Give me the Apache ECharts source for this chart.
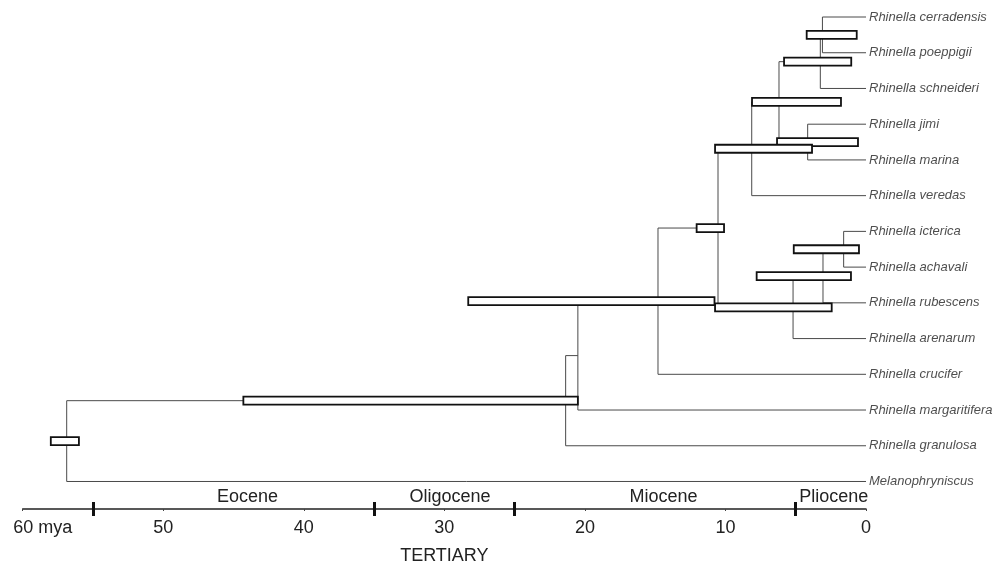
<!DOCTYPE html>
<html>
<head>
<meta charset="utf-8">
<script src="https://cdn.jsdelivr.net/npm/echarts@6/dist/echarts.min.js"></script>
<style>
html,body{margin:0;padding:0;background:#fff;}
#chart{width:998px;height:564px;}
</style>
</head>
<body>
<div id="chart"></div>
<script>
// ---- data ----
const taxa = ['Rhinella cerradensis','Rhinella poeppigii','Rhinella schneideri','Rhinella jimi','Rhinella marina','Rhinella veredas','Rhinella icterica','Rhinella achavali','Rhinella rubescens','Rhinella arenarum','Rhinella crucifer','Rhinella margaritifera','Rhinella granulosa','Melanophryniscus'];
// internal nodes (children listed before parents); numbers = taxa index, strings = node name
const nodeNames    = ['A','B','D','C','E','I','J','K','F','H','L','M','R'];
const nodeChildren = [[0,1],['A',2],[3,4],['B','D'],['C',5],[6,7],['I',8],['J',9],['E','K'],['F',10],['H',11],['L',12],['M',13]];
const nodeAges     = [3.1, 3.25, 4.15, 6.19, 8.13, 1.59, 3.06, 5.19, 10.53, 14.8, 20.5, 21.37, 56.87];
const barOlder     = [4.22, 5.83, 6.33, 8.11, 10.74, 5.14, 7.78, 10.74, 12.05, 28.3, null, 44.3, 58.0];
const barYounger   = [0.66, 1.05, 0.57, 1.78, 3.84, 0.5, 1.07, 2.44, 10.1, 10.78, null, 20.5, 56.0];
const axisTicks    = [60, 50, 40, 30, 20, 10, 0];
const epochBoundaries = [55, 35, 25, 5];
const epochNames      = ['Eocene','Oligocene','Miocene','Pliocene'];
const epochLabelAges  = [44, 29.6, 14.4, 2.3];
const eraName = 'TERTIARY';

// ---- build tree geometry (in data units) ----
const pos = {}; // key -> {age, y}
taxa.forEach((t, i) => { pos[i] = {age: 0, y: i}; });
const nodeData = [];
nodeNames.forEach((n, k) => {
  const ch = nodeChildren[k].map(c => pos[c]);
  const y = ch.reduce((s, c) => s + c.y, 0) / ch.length;
  pos[n] = {age: nodeAges[k], y: y};
  nodeData.push({ value: [nodeAges[k], y], children: ch });
});
const barData = [];
nodeNames.forEach((n, k) => {
  if (barOlder[k] != null) barData.push([barOlder[k], barYounger[k], pos[n].y]);
});

const LINE = '#4a4a4a';
const FONT = 'Liberation Sans, Arial, sans-serif';

const chart = echarts.init(document.getElementById('chart'), null, {renderer: 'canvas'});
chart.setOption({
  animation: false,
  backgroundColor: '#fff',
  grid: { left: 22.7, right: 132, top: 0, bottom: 55, containLabel: false, outerBoundsMode: 'none' },
  xAxis: [
    {
      type: 'value', min: 0, max: 60, interval: 10, inverse: true, position: 'bottom',
      axisLine: { show: true, onZero: false, lineStyle: { color: '#222', width: 1.5 } },
      axisTick: { show: true, length: 2, lineStyle: { color: '#444', width: 1 } },
      splitLine: { show: false },
      axisLabel: {
        show: true, color: '#222', fontSize: 18, fontFamily: FONT, margin: 10,
        customValues: axisTicks,
        formatter: v => v === 60 ? '{p|60 mya}' : String(v),
        rich: { p: { fontSize: 18, fontFamily: FONT, color: '#222', padding: [0, 0, 0, 40] } }
      },
      name: eraName, nameLocation: 'middle', nameGap: 38,
      nameTextStyle: { fontSize: 18, fontFamily: FONT, color: '#222' }
    },
    {
      type: 'value', min: 0, max: 60, inverse: true, position: 'bottom', offset: -7,
      axisLine: { show: false, onZero: false },
      axisTick: { show: true, length: 14, customValues: epochBoundaries, lineStyle: { color: '#111', width: 3 } },
      axisLabel: { show: false },
      splitLine: { show: false }
    },
    {
      type: 'value', min: 0, max: 60, inverse: true, position: 'bottom',
      axisLine: { show: false, onZero: false },
      axisTick: { show: false },
      splitLine: { show: false },
      axisLabel: {
        show: true, inside: true, margin: 3, color: '#222', fontSize: 18, fontFamily: FONT,
        customValues: epochLabelAges,
        formatter: v => { const i = epochLabelAges.findIndex(a => Math.abs(a - v) < 1e-6); return i >= 0 ? epochNames[i] : ''; }
      }
    }
  ],
  yAxis: { type: 'value', min: -0.476, max: 13.77, inverse: true, show: false },
  series: [
    {
      type: 'custom', xAxisIndex: 0, yAxisIndex: 0, clip: false, z: 2,
      data: nodeData.map(d => d.value),
      renderItem: (params, api) => {
        const nd = nodeData[params.dataIndex];
        const age = nd.value[0];
        const ys = nd.children.map(c => c.y);
        const top = api.coord([age, Math.min(...ys)]);
        const bot = api.coord([age, Math.max(...ys)]);
        const kids = [{ type: 'line', shape: { x1: top[0], y1: top[1], x2: bot[0], y2: bot[1] }, style: { stroke: LINE, lineWidth: 1 } }];
        nd.children.forEach(c => {
          const p1 = api.coord([age, c.y]);
          const p2 = api.coord([c.age, c.y]);
          kids.push({ type: 'line', shape: { x1: p1[0], y1: p1[1], x2: p2[0], y2: p2[1] }, style: { stroke: LINE, lineWidth: 1 } });
        });
        return { type: 'group', children: kids };
      }
    },
    {
      type: 'custom', xAxisIndex: 0, yAxisIndex: 0, clip: false, z: 3,
      data: barData,
      renderItem: (params, api) => {
        const a = api.coord([api.value(0), api.value(2)]);
        const b = api.coord([api.value(1), api.value(2)]);
        const h = 8;
        return { type: 'rect', shape: { x: a[0], y: a[1] - h / 2, width: b[0] - a[0], height: h },
                 style: { fill: '#fff', stroke: '#111', lineWidth: 1.8 } };
      }
    },
    {
      type: 'scatter', xAxisIndex: 0, yAxisIndex: 0, symbolSize: 0, z: 4,
      data: taxa.map((t, i) => [0, i]),
      label: {
        show: true, position: 'right', distance: 3, color: '#222', fontSize: 13,
        fontStyle: 'italic', fontFamily: FONT,
        formatter: p => taxa[p.dataIndex]
      }
    }
  ]
});
</script>
</body>
</html>
